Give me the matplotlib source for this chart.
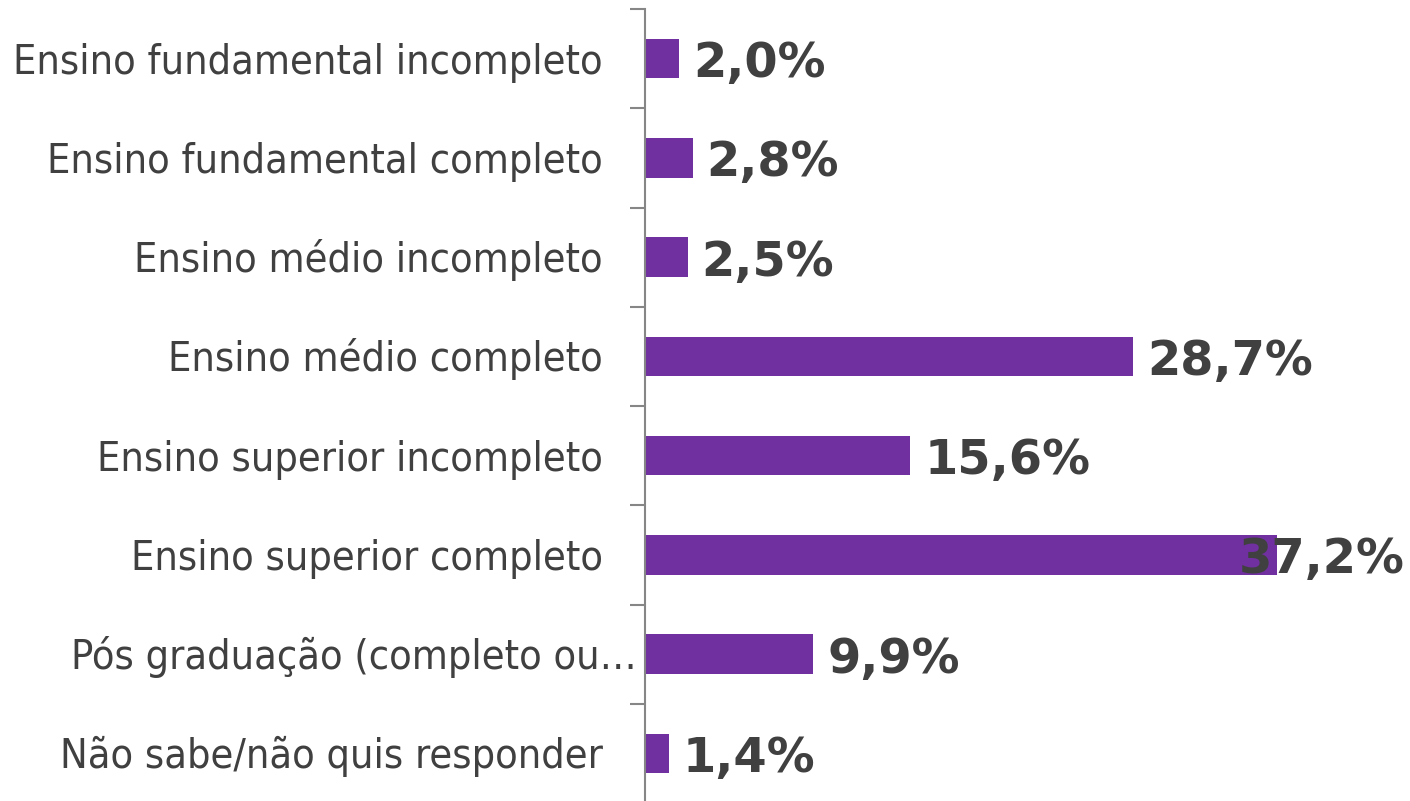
import matplotlib
matplotlib.use('Agg')
import matplotlib.pyplot as plt
from matplotlib.transforms import offset_copy, blended_transform_factory

# ===== DATA =====
categorias = ["Ensino fundamental incompleto", "Ensino fundamental completo",
              "Ensino médio incompleto", "Ensino médio completo",
              "Ensino superior incompleto", "Ensino superior completo",
              "Pós graduação (completo ou…", "Não sabe/não quis responder"]
valores = [2.0, 2.8, 2.5, 28.7, 15.6, 37.2, 9.9, 1.4]
rotulos = [f"{v:.1f}%".replace('.', ',') for v in valores]

ROXO = '#7030A0'
CINZA_TXT = '#404040'
CINZA_EIXO = '#868686'

W, H, DPI = 1410, 801, 100
fig = plt.figure(figsize=(W / DPI, H / DPI), dpi=DPI)
ax = fig.add_axes([645 / W, -2 / H, 760 / W, 794 / H])

y = list(range(len(categorias)))
ax.barh(y, valores, height=0.4, color=ROXO)
ax.set_xlim(0, 760 / 17.0)
ax.set_ylim(len(categorias) - 0.5, -0.5)

for s in ['top', 'right', 'bottom']:
    ax.spines[s].set_visible(False)
ax.spines['left'].set_color(CINZA_EIXO)
ax.spines['left'].set_linewidth(1.5)
ax.set_xticks([])
ax.set_yticks([i - 0.5 for i in range(len(categorias) + 1)])
ax.set_yticklabels([])
ax.tick_params(axis='y', length=11, width=1.5, color=CINZA_EIXO, direction='out')

# category names, right-aligned left of the axis
trans = blended_transform_factory(ax.transAxes, ax.transData)
for i, nome in enumerate(categorias):
    dx = -8 if nome.endswith('…') else -42
    t = offset_copy(trans, fig=fig, x=dx, y=-15, units='dots')
    ax.text(0, i, nome, transform=t, ha='right', va='baseline',
            fontsize=29.7, color=CINZA_TXT, family='DejaVu Sans', fontstretch='condensed')

# value labels at bar ends
fig.canvas.draw()
r = fig.canvas.get_renderer()
for i, (v, lab) in enumerate(zip(valores, rotulos)):
    t = offset_copy(ax.transData, fig=fig, x=14, y=-18.5, units='dots')
    txt = ax.text(v, i, lab, transform=t, ha='left', va='baseline',
                  fontsize=34.5, fontweight='bold', color=CINZA_TXT)
    bb = txt.get_window_extent(r)
    if bb.x1 > W - 5:
        txt.set_transform(offset_copy(trans, fig=fig, x=0, y=-18.5, units='dots'))
        txt.set_x(1.0)
        txt.set_ha('right')

fig.savefig('out.png', dpi=DPI)
